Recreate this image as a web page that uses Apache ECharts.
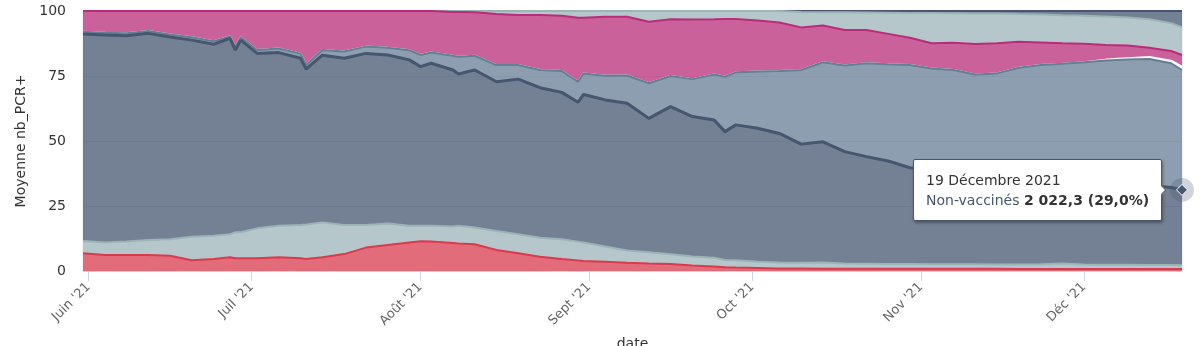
<!DOCTYPE html>
<html>
<head>
<meta charset="utf-8">
<script src="https://cdn.jsdelivr.net/npm/echarts@6.0.0/dist/echarts.min.js"></script>
<style>
  html, body { margin: 0; padding: 0; background: #ffffff; }
  #chart { width: 1200px; height: 346px; }
</style>
</head>
<body>
<div id="chart"></div>
<script>
// ---- Data (share of the daily average of positive PCR tests, in %) ----
const dates = ['2021-05-31','2021-06-04','2021-06-08','2021-06-12','2021-06-16','2021-06-20','2021-06-24','2021-06-27','2021-06-28','2021-06-29',
  '2021-07-02','2021-07-06','2021-07-10','2021-07-11','2021-07-14','2021-07-18','2021-07-22','2021-07-26','2021-07-30','2021-08-01',
  '2021-08-03','2021-08-07','2021-08-08','2021-08-11','2021-08-15','2021-08-19','2021-08-23','2021-08-27','2021-08-30','2021-08-31',
  '2021-09-04','2021-09-08','2021-09-12','2021-09-16','2021-09-20','2021-09-24','2021-09-26','2021-09-28','2021-10-02','2021-10-06',
  '2021-10-10','2021-10-14','2021-10-18','2021-10-22','2021-10-26','2021-10-30','2021-11-03','2021-11-07','2021-11-11','2021-11-15',
  '2021-11-19','2021-11-23','2021-11-27','2021-12-01','2021-12-05','2021-12-09','2021-12-13','2021-12-17','2021-12-19'];

const primoDoseRecente = [6.8,6.2,6.2,6.2,5.9,4.1,4.6,5.3,4.9,4.9,
  4.9,5.3,4.9,4.6,5.3,6.5,9.0,10.0,11.0,11.4,
  11.3,10.8,10.6,10.3,8.1,6.8,5.5,4.6,4.0,3.8,
  3.6,3.2,2.9,2.7,2.1,1.7,1.4,1.3,1.2,1.0,
  1.0,0.9,0.9,0.9,0.9,0.9,0.9,0.9,0.9,0.9,
  0.8,0.8,0.8,0.8,0.8,0.8,0.8,0.8,0.8];

const primoDoseEfficace = [4.7,4.8,5.1,5.7,6.3,9.1,9.0,8.8,10.0,10.0,
  11.5,12.1,12.8,13.3,13.4,11.2,8.7,8.3,6.4,6.0,
  6.1,6.3,6.8,6.4,7.3,7.3,7.3,7.6,7.3,7.2,
  5.8,4.7,4.3,3.7,3.5,3.4,2.8,2.8,2.4,2.3,
  2.2,2.4,2.0,1.9,1.8,1.8,1.7,1.7,1.7,1.6,
  1.7,1.8,2.1,1.7,1.6,1.6,1.5,1.5,1.4];

const nonVaccines = [79.7,79.8,79.2,79.5,77.8,75.6,73.6,75.4,70.1,73.9,
  67.3,66.6,64.1,59.8,64.3,64.1,66.0,64.8,63.8,61.2,
  62.5,60.2,58.4,60.6,57.4,59.7,57.7,56.5,53.6,56.9,
  56.4,56.6,51.5,56.8,53.8,53.0,49.4,52.1,51.3,49.6,
  45.6,46.4,43.0,41.2,39.6,37.0,36.4,35.4,35.0,34.3,
  33.6,33.0,32.1,31.9,31.5,31.1,30.7,29.8,29.0];

const complet6moisSansRappel = [0.8,0.8,0.9,0.9,1.0,1.1,1.2,0.7,1.2,1.1,
  1.3,1.6,1.8,1.5,2.0,2.6,2.6,2.8,3.7,4.5,
  4.1,5.5,6.6,5.5,6.4,5.4,6.8,8.2,7.9,8.1,
  9.3,10.7,13.5,11.8,14.4,17.5,21.1,20.2,21.8,24.0,
  28.5,30.6,33.1,35.9,37.2,39.5,38.9,39.3,38.0,39.2,
  42.1,43.6,44.7,45.9,47.1,47.8,48.5,47.8,46.1];

const complet6moisAvecRappel = [0,0,0,0,0,0,0,0,0,0,
  0,0,0,0,0,0,0,0,0,0,
  0,0,0,0,0,0,0,0,0,0,
  0,0,0,0,0,0,0,0,0,0,
  0,0,0,0,0,0,0,0,0,0,
  0,0,0,0,0.3,0.5,0.8,1.0,1.3];

const complet3a6moisSansRappel = [8.0,8.4,8.6,7.7,9.0,10.1,11.6,9.8,13.8,10.1,
  15.0,14.4,16.4,20.8,15.0,15.6,13.7,14.1,15.1,16.9,
  16.0,16.8,17.2,16.7,19.6,19.3,21.2,21.3,24.6,21.4,
  22.7,22.6,23.7,21.8,22.9,21.2,22.2,20.5,19.6,18.7,
  16.4,14.1,13.7,12.8,11.7,10.5,9.7,10.5,11.7,11.6,
  10.0,8.7,7.9,7.1,5.6,4.9,3.6,3.7,4.5];

const completMoins3moisSansRappel = [0,0,0,0,0,0,0,0,0,0,
  0,0,0,0,0,0,0,0,0,0,
  0,0.4,0.4,0.5,1.2,1.5,1.5,1.8,2.6,2.6,
  2.2,2.2,4.1,3.2,3.3,3.2,3.1,3.1,3.7,4.4,
  5.9,5.1,6.8,6.7,8.1,9.5,11.6,11.3,11.7,11.4,
  10.6,10.8,10.8,10.8,11.0,10.8,10.9,10.7,10.7];

const completMoins3moisAvecRappel = [0,0,0,0,0,0,0,0,0,0,
  0,0,0,0,0,0,0,0,0,0,
  0,0,0,0,0,0,0,0,0,0,
  0,0,0,0,0,0,0,0,0,0,
  0.4,0.5,0.5,0.6,0.7,0.8,0.8,0.9,1.0,1.0,
  1.2,1.3,1.6,1.8,2.1,2.5,3.2,4.7,6.2];

// absolute value shown in the tooltip for the last day
const nonVaccinesLastCount = 2022.3;

const yTicks = [0, 25, 50, 75, 100];
const monthTickDates = ['2021-06-01','2021-07-01','2021-08-01','2021-09-01','2021-10-01','2021-11-01','2021-12-01'];
const monthTickLabels = ["Juin '21", "Juil '21", "Août '21", "Sept '21", "Oct '21", "Nov '21", "Déc '21"];
const moisFr = ['Janvier','Février','Mars','Avril','Mai','Juin','Juillet','Août','Septembre','Octobre','Novembre','Décembre'];

// ---- Build chart ----
function ts(s) { const p = s.split('-').map(Number); return Date.UTC(p[0], p[1] - 1, p[2]); }
const xs = dates.map(ts);
const tickTs = monthTickDates.map(ts);
const last = dates.length - 1;

const seriesDefs = [
  { name: 'Primo dose récente', data: primoDoseRecente, color: '#d83b4e', width: 2 },
  { name: 'Primo dose efficace', data: primoDoseEfficace, color: '#9cb4b8', width: 2 },
  { name: 'Non-vaccinés', data: nonVaccines, color: '#46566f', width: 3 },
  { name: 'Complet de 6 mois et plus - sans rappel', data: complet6moisSansRappel, color: '#667e94', width: 2 },
  { name: 'Complet de 6 mois et plus - avec rappel', data: complet6moisAvecRappel, color: '#fafafa', width: 2 },
  { name: 'Complet entre 3 mois et 6 mois - sans rappel', data: complet3a6moisSansRappel, color: '#b82c7a', width: 2 },
  { name: 'Complet de moins de 3 mois - sans rappel', data: completMoins3moisSansRappel, color: '#9cb4b8', width: 2 },
  { name: 'Complet de moins de 3 mois - avec rappel', data: completMoins3moisAvecRappel, color: '#46566f', width: 2 }
];

function fmtNum(v) {
  const s = v.toFixed(1).split('.');
  return s[0].replace(/\B(?=(\d{3})+(?!\d))/g, '\u00a0') + ',' + s[1];
}

const anchorIndex = 2;
const stackTopLast = seriesDefs.slice(0, anchorIndex + 1).reduce((a, d) => a + d.data[last], 0);

const series = seriesDefs.map((d, i) => {
  // value first, date second: the stacked dimension is then the percentage
  const data = d.data.map((v, j) => {
    if (i === anchorIndex && j === last) {
      return { value: [v, xs[j]], symbol: 'circle', symbolSize: 20, itemStyle: { opacity: 0 } };
    }
    return [v, xs[j]];
  });
  const s = {
    name: d.name,
    type: 'line',
    stack: 'total',
    dimensions: ['pct', 'date'],
    encode: { x: 'date', y: 'pct' },
    data: data,
    symbol: 'none',
    showSymbol: true,
    color: d.color,
    lineStyle: { color: d.color, width: d.width },
    areaStyle: { color: d.color, opacity: 0.75 },
    emphasis: { disabled: true },
    animation: false,
    z: 10 - i
  };
  if (i === anchorIndex) {
    s.markPoint = {
      silent: true,
      animation: false,
      z: 30,
      label: { show: false },
      data: [
        { coord: [xs[last], stackTopLast], symbol: 'circle', symbolSize: 24, itemStyle: { color: 'rgba(70,86,111,0.25)' } },
        { coord: [xs[last], stackTopLast], symbol: 'diamond', symbolSize: 11, itemStyle: { color: '#46566f', borderColor: '#ffffff', borderWidth: 1 } }
      ]
    };
  }
  return s;
});

const chart = echarts.init(document.getElementById('chart'), null, { renderer: 'canvas' });
chart.setOption({
  animation: false,
  textStyle: { fontFamily: 'DejaVu Sans' },
  grid: { left: 83, right: 18, top: 11, bottom: 75, show: true, borderColor: '#e3e6ec', borderWidth: 1, outerBoundsMode: 'none' },
  tooltip: {
    trigger: 'item',
    triggerOn: 'none',
    alwaysShowContent: true,
    position: 'left',
    transitionDuration: 0,
    showDelay: 0,
    backgroundColor: '#ffffff',
    borderColor: '#46566f',
    borderWidth: 1,
    padding: [10, 12],
    textStyle: { fontFamily: 'DejaVu Sans', fontSize: 14, color: '#333333' },
    extraCssText: 'box-shadow: 1px 2px 3px rgba(0,0,0,0.35); border-radius: 2px;',
    formatter: function (p) {
      const d = new Date(xs[p.dataIndex]);
      const dateStr = d.getUTCDate() + ' ' + moisFr[d.getUTCMonth()] + ' ' + d.getUTCFullYear();
      const pct = nonVaccines[p.dataIndex].toFixed(1).replace('.', ',');
      return '<div style="line-height:20px;font-family:DejaVu Sans">' + dateStr + '<br/>' +
        '<span style="color:#46566f">' + p.seriesName + '</span> ' +
        '<b>' + fmtNum(nonVaccinesLastCount) + ' (' + pct + '%)</b></div>';
    }
  },
  xAxis: {
    type: 'value',
    min: xs[0],
    max: xs[last],
    scale: true,
    name: 'date',
    nameLocation: 'middle',
    nameGap: 66,
    nameTextStyle: { fontSize: 14, color: '#333333' },
    axisLine: { show: true, lineStyle: { color: '#ccd6eb', width: 1 } },
    axisTick: { show: true, customValues: tickTs, length: 10, lineStyle: { color: '#ccd6eb', width: 1 } },
    axisLabel: {
      customValues: tickTs,
      rotate: 45,
      margin: 14,
      fontSize: 13,
      color: '#666666',
      formatter: function (v) {
        const k = tickTs.indexOf(v);
        return k >= 0 ? monthTickLabels[k] : '';
      }
    },
    splitLine: { show: false }
  },
  yAxis: {
    type: 'value',
    min: yTicks[0],
    max: yTicks[yTicks.length - 1],
    interval: 25,
    name: 'Moyenne nb_PCR+',
    nameLocation: 'middle',
    nameGap: 54,
    nameTextStyle: { fontSize: 14, color: '#333333' },
    axisLine: { show: false },
    axisTick: { show: false },
    axisLabel: { fontSize: 14, color: '#333333', margin: 17 },
    splitLine: { show: true, lineStyle: { color: '#e6e6e6', width: 1 } }
  },
  series: series
});

chart.dispatchAction({ type: 'showTip', seriesIndex: anchorIndex, dataIndex: last });
</script>
</body>
</html>
